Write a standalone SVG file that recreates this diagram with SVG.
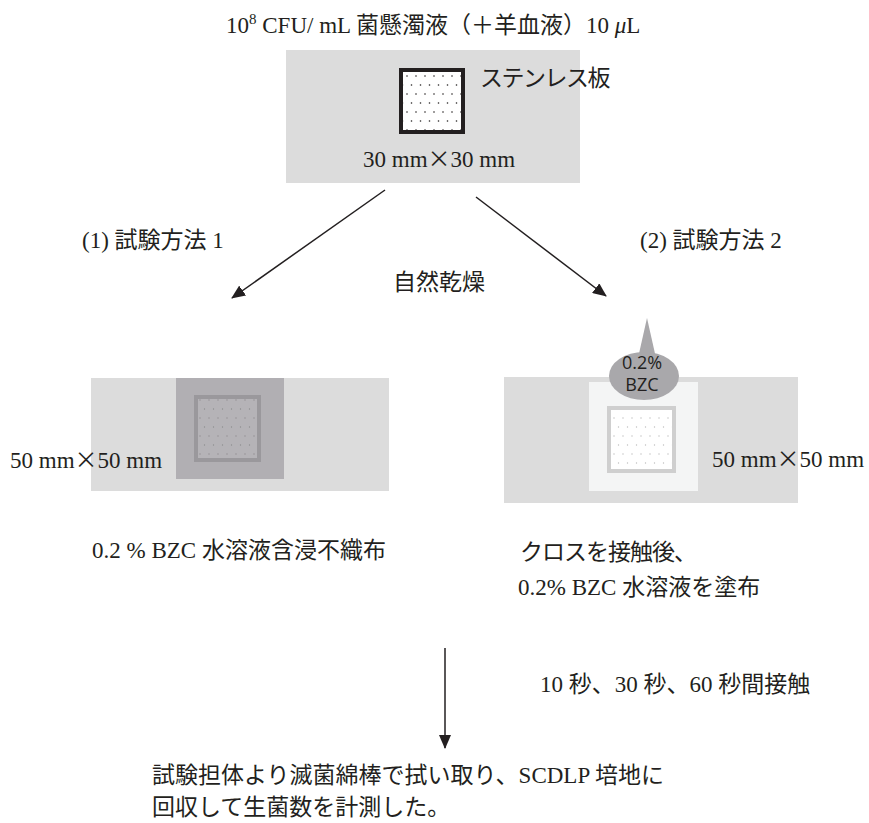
<svg xmlns="http://www.w3.org/2000/svg" width="869" height="823" viewBox="0 0 869 823">
<style>
.t{font-family:"Liberation Serif","Noto Sans CJK JP",serif;font-size:23px;fill:#231f20}
.x{font-family:"Noto Sans CJK JP",sans-serif}
.s{font-family:"Open Sans","Noto Sans",sans-serif;font-size:18px;fill:#231f20;text-anchor:middle}
.ln{stroke:#231f20;stroke-width:1.5;fill:none}
</style>
<defs>
<marker id="ah" viewBox="0 0 14 12" refX="13" refY="6" markerWidth="14" markerHeight="12" markerUnits="userSpaceOnUse" orient="auto">
<path d="M0,0 L14,6 L0,12 z" fill="#231f20"/>
</marker>
<pattern id="dk" width="9" height="18" patternUnits="userSpaceOnUse">
<circle cx="2" cy="4" r="0.8" fill="#231f20"/>
<circle cx="6.5" cy="13" r="0.8" fill="#231f20"/>
</pattern>
<pattern id="gd" width="9" height="18" patternUnits="userSpaceOnUse">
<circle cx="2" cy="4" r="0.7" fill="#8e8c90"/>
<circle cx="6.5" cy="13" r="0.7" fill="#8e8c90"/>
</pattern>
<pattern id="ld" width="9" height="18" patternUnits="userSpaceOnUse">
<circle cx="2" cy="4" r="0.7" fill="#bdbdbd"/>
<circle cx="6.5" cy="13" r="0.7" fill="#bdbdbd"/>
</pattern>
</defs>

<g id="title">
<text class="t" x="226" y="33">10<tspan font-size="15" dy="-9">8</tspan><tspan dy="9"> CFU/ mL 菌懸濁液（＋羊血液）10 <tspan font-style="italic">μ</tspan>L</tspan></text>
</g>

<g id="plate">
<rect x="286" y="50" width="294" height="133" fill="#dcdcdc"/>
<rect x="401" y="70" width="62" height="62" fill="#fff"/>
<rect x="401" y="70" width="62" height="62" fill="url(#dk)"/>
<rect x="401" y="70" width="62" height="62" fill="none" stroke="#231f20" stroke-width="4"/>
<text class="t" x="480" y="86" letter-spacing="-1.5">ステンレス板</text>
<text class="t" x="363" y="167">30 mm<tspan class="x">×</tspan>30 mm</text>
</g>

<g id="method1">
<rect x="91" y="378" width="298" height="113" fill="#dcdcdc"/>
<rect x="176" y="378" width="108" height="101" fill="#b1afb3"/>
<rect x="196" y="397" width="63" height="63" fill="#b5b3b7" stroke="#9a989c" stroke-width="4"/>
<rect x="198" y="399" width="59" height="59" fill="url(#gd)"/>
<text class="t" x="10" y="468">50 mm<tspan class="x">×</tspan>50 mm</text>
<text class="t" x="92" y="558">0.2 % BZC  水溶液含浸不織布</text>
</g>

<g id="method2">
<rect x="504" y="377" width="294" height="126" fill="#dcdcdc"/>
<rect x="589" y="382" width="109" height="109" fill="#f4f5f5"/>
<rect x="609" y="408" width="65" height="63" fill="#fff" stroke="#cfcfcf" stroke-width="4"/>
<rect x="611" y="410" width="61" height="59" fill="url(#ld)"/>
<path d="M647,318 L656,358 L638,358 Z" fill="#a9a8ab"/>
<ellipse cx="644" cy="376" rx="35" ry="24" fill="#a9a8ab"/>
<text class="s" x="642" y="369">0.2%</text>
<text class="s" x="642" y="391">BZC</text>
<text class="t" x="712" y="467">50 mm<tspan class="x">×</tspan>50 mm</text>
<text class="t" x="520" y="560" letter-spacing="-1">クロスを接触後、</text>
<text class="t" x="518" y="595">0.2% BZC 水溶液を塗布</text>
</g>

<g id="result">
<text class="t" x="152" y="783">試験担体より滅菌綿棒で拭い取り、SCDLP 培地に</text>
<text class="t" x="152" y="815">回収して生菌数を計測した。</text>
</g>

<g id="labels">
<text class="t" x="82" y="248">(1) 試験方法 1</text>
<text class="t" x="640" y="248">(2) 試験方法 2</text>
<text class="t" x="393" y="290">自然乾燥</text>
<text class="t" x="540" y="692">10 秒、30 秒、60 秒間接触</text>
</g>

<g id="connectors">
<line class="ln" x1="385" y1="190" x2="232" y2="298" marker-end="url(#ah)"/>
<line class="ln" x1="476" y1="197" x2="606" y2="296" marker-end="url(#ah)"/>
<line class="ln" x1="445" y1="648" x2="445" y2="748" marker-end="url(#ah)"/>
</g>
</svg>
